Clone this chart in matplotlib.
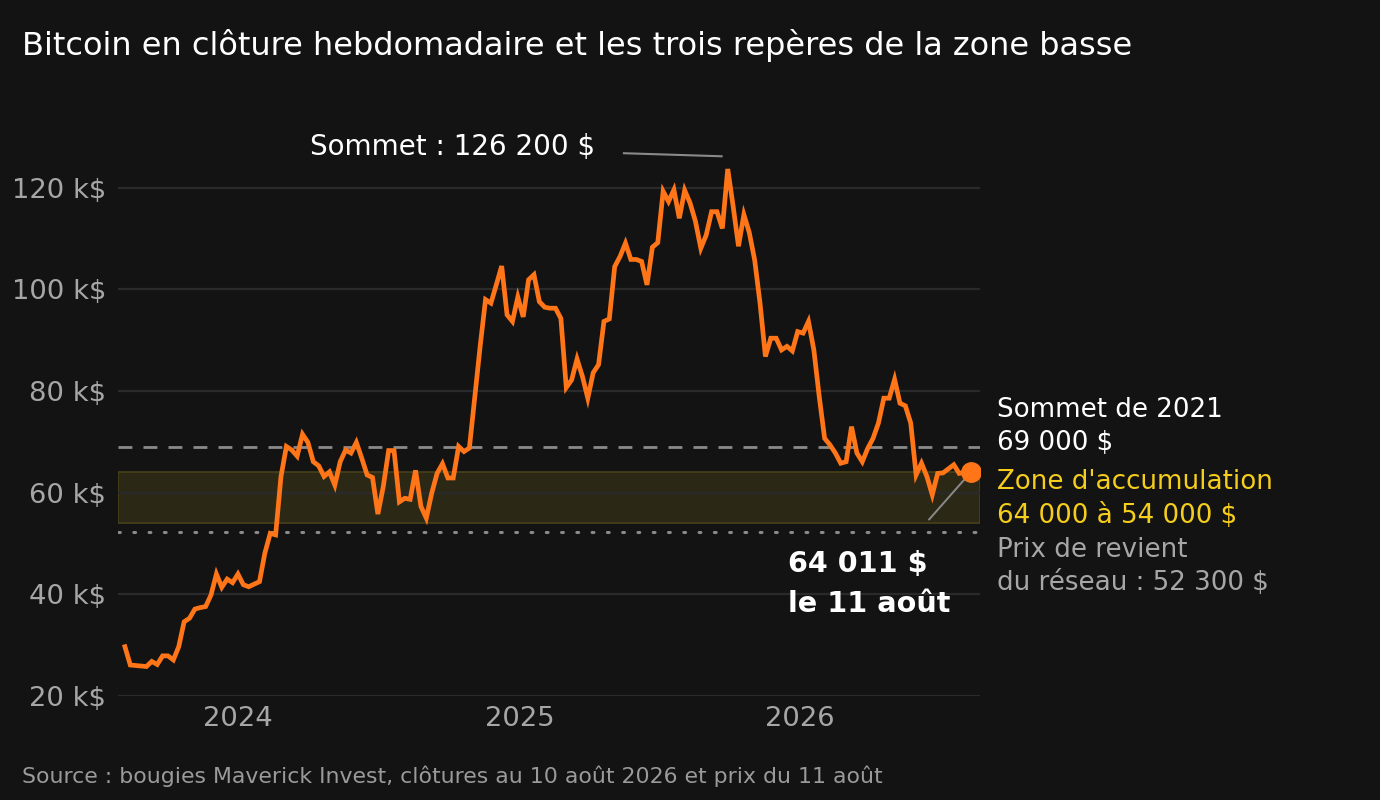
import pandas as pd
import matplotlib.pyplot as plt

# === Data (weekly closes, k$) ===
start_date = "2023-08-07"
weekly_close = [
    29.7, 26.1, 26.0, 25.9, 25.8, 26.8, 26.2, 27.9, 27.9, 27.1,
    29.7, 34.6, 35.3, 37.1, 37.4, 37.6, 39.9, 44.0, 41.4, 43.0,
    42.3, 44.0, 41.9, 41.5, 42.0, 42.5, 48.1, 52.0, 51.7, 63.2,
    69.1, 68.4, 67.2, 71.5, 69.9, 66.1, 65.3, 63.2, 64.1, 61.5,
    66.1, 68.4, 67.8, 69.9, 66.8, 63.5, 63.0, 55.8, 61.2, 68.3,
    68.3, 58.2, 58.9, 58.7, 64.4, 57.3, 55.0, 59.9, 63.8, 65.7,
    62.9, 62.9, 69.1, 68.1, 68.8, 78.9, 88.8, 98.0, 97.3, 100.9,
    104.6, 95.0, 93.7, 98.5, 94.6, 101.9, 102.9, 97.6, 96.5, 96.3,
    96.3, 94.3, 80.7, 82.2, 86.3, 82.9, 78.6, 83.6, 85.2, 93.7,
    94.2, 104.5, 106.5, 109.1, 105.9, 105.9, 105.5, 100.9, 108.3, 109.2,
    119.3, 117.3, 119.6, 114.0, 119.5, 117.0, 113.4, 108.1, 110.7, 115.3,
    115.3, 112.0, 123.7, 116.4, 108.5, 114.7, 111.2, 105.8, 97.3, 86.8,
    90.4, 90.4, 88.1, 88.8, 87.9, 91.7, 91.4, 93.7, 88.1, 78.9,
    70.7, 69.4, 67.8, 65.8, 66.1, 73.0, 67.8, 66.1, 68.7, 70.7,
    73.7, 78.6, 78.6, 82.3, 77.6, 77.1, 73.7, 63.5, 65.8, 63.2,
    59.6, 63.8, 63.9, 64.7, 65.5, 63.8, 64.0, 64.0,
]

peak_2021 = 69.0
zone_low, zone_high = 54.0, 64.0
cost_basis = 52.3
ath_intraday = 126.2
last_price = 64.011
last_price_date = "2026-08-11"

y_ticks = [20, 40, 60, 80, 100, 120]
x_years = ["2024", "2025", "2026"]

# === Colours ===
BG = "#131313"
ORANGE = "#ff7518"
GRID = "#2a2a2a"
GREY_TXT = "#a6a6a6"
YELLOW = "#f5cd1c"

dates = pd.date_range(start_date, periods=len(weekly_close), freq="7D")

plt.rcParams["font.family"] = ["DejaVu Sans"]
fig = plt.figure(figsize=(13.8, 8), dpi=100, facecolor=BG)
ax = fig.add_axes([0.0855, 0.13, 0.6246, 0.6988])
ax.set_facecolor(BG)

# === Reference levels ===
ax.axhspan(zone_low, zone_high, facecolor="#2b2816", edgecolor="#47411a", lw=1.2, zorder=1)
ax.axhline(peak_2021, color="#8a8a8a", lw=2, ls=(0, (5, 4)), zorder=2)
ax.axhline(cost_basis, color="#8a8a8a", lw=2.2, ls=(0, (0.6, 4.4)), dash_capstyle="round", zorder=2)

for t in y_ticks:
    ax.axhline(t, color=GRID, lw=1.6, zorder=1.5)

# === Price line ===
ax.plot(dates, weekly_close, color=ORANGE, lw=3.4, solid_joinstyle="miter", zorder=4)
ax.plot([pd.Timestamp(last_price_date)], [last_price], "o", color=ORANGE, ms=14, zorder=5)

# === Axes ===
ax.set_ylim(20, 130)
ax.set_xlim(pd.Timestamp("2023-07-29"), pd.Timestamp("2026-08-23"))
ax.set_yticks(y_ticks)
ax.set_yticklabels([f"{t} k$" for t in y_ticks])
ax.set_xticks([pd.Timestamp(f"{y}-01-01") for y in x_years])
ax.set_xticklabels(x_years)
ax.tick_params(length=0, colors=GREY_TXT, labelsize=19.7)
ax.tick_params(axis="y", pad=8.5)
ax.tick_params(axis="x", pad=7)
for s in ax.spines.values():
    s.set_visible(False)

# === Annotations ===
peak_date = dates[weekly_close.index(max(weekly_close))]
ax.plot([peak_date - pd.Timedelta(days=135), peak_date - pd.Timedelta(days=8)],
        [ath_intraday + 0.6, ath_intraday], color="#8a8a8a", lw=1.5, zorder=3, clip_on=False)
ax.text(peak_date - pd.Timedelta(days=173), ath_intraday + 1.9, "Sommet : 126 200 $",
        color="white", fontsize=20, ha="right", va="center")

ax.annotate("", xy=(pd.Timestamp(last_price_date), last_price), xytext=(-30, -34),
            textcoords="offset points",
            arrowprops=dict(arrowstyle="-", color="#8a8a8a", lw=1.4, shrinkA=0, shrinkB=7))
ax.text(0.777, 0.236, "64 011 $", transform=ax.transAxes, color="white",
        fontsize=20.6, fontweight="bold", va="center")
ax.text(0.777, 0.164, "le 11 août", transform=ax.transAxes, color="white",
        fontsize=20.6, fontweight="bold", va="center")

side = [
    ("Sommet de 2021", 410, "white"),
    ("69 000 $", 443, "white"),
    ("Zone d'accumulation", 482, YELLOW),
    ("64 000 à 54 000 $", 516, YELLOW),
    ("Prix de revient", 550, GREY_TXT),
    ("du réseau : 52 300 $", 583, GREY_TXT),
]
for txt, py, col in side:
    fig.text(997 / 1380, 1 - py / 800, txt, color=col, fontsize=18.8, va="center", ha="left")

fig.text(22 / 1380, 1 - 45 / 800, "Bitcoin en clôture hebdomadaire et les trois repères de la zone basse",
         color="white", fontsize=23, va="center", ha="left")
fig.text(22 / 1380, 1 - 776 / 800,
         "Source : bougies Maverick Invest, clôtures au 10 août 2026 et prix du 11 août",
         color="#9a9a9a", fontsize=15.8, va="center", ha="left")

fig.savefig("out.png", dpi=100, facecolor=BG)
